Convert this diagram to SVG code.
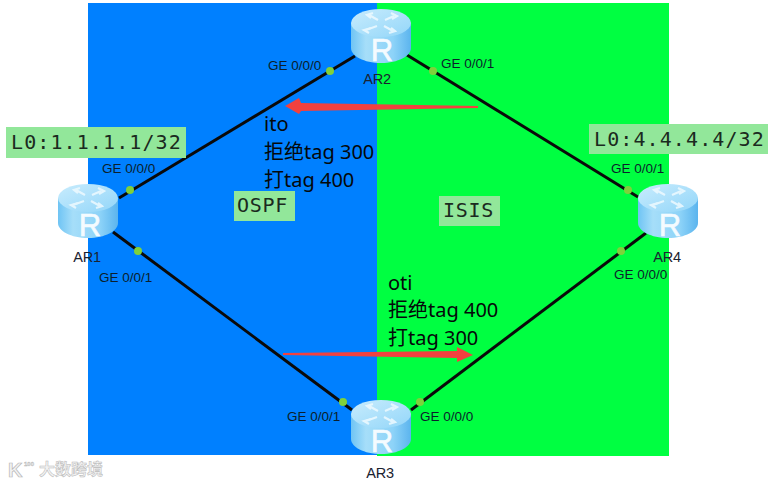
<svg xmlns="http://www.w3.org/2000/svg" width="774" height="484" viewBox="0 0 774 484">
<style>
.bg{stroke:none}
.link{stroke:#0a0a0a;stroke-width:3;fill:none}
.dot{fill:#7fd13b}
.port{font:13.5px "Liberation Sans",Arial,sans-serif;fill:#0b1f2c}
.name{font:14.5px "Liberation Sans",Arial,sans-serif;fill:#1a2230;text-anchor:middle;letter-spacing:-.2px}
.tagbox{fill:#92e79a}
.mono{font:20px "DejaVu Sans Mono",monospace;fill:#1b2a20;letter-spacing:1.1px}
.as{font:20px "DejaVu Sans Mono",monospace;fill:#1b2a20;letter-spacing:.7px}
.note{font:20px "Noto Sans","Noto Sans CJK SC",sans-serif;fill:#05080a}
.arrow{fill:#f2413f}
.rt{fill:url(#side)}
.rtop{fill:url(#top)}
.rtxt{font:31px "Liberation Sans",Arial,sans-serif;fill:#f4fbff;stroke:#f4fbff;stroke-width:.6px;text-anchor:middle}
.wm{font:bold 16px "Noto Sans CJK SC",sans-serif;fill:#f2f2f2;stroke:#b8b8b8;stroke-width:.5px}
.wml{font:bold 20px "Liberation Sans",sans-serif;fill:#f2f2f2;stroke:#b8b8b8;stroke-width:.7px}
.wms{font:bold 6px "Liberation Sans",sans-serif;fill:#f2f2f2;stroke:#b8b8b8;stroke-width:.4px}
</style>
<defs>
<linearGradient id="side" x1="0" x2="1" y1="0" y2="0">
<stop offset="0" stop-color="#6fc4f4"/><stop offset=".25" stop-color="#a6def9"/><stop offset=".7" stop-color="#8dd3f8"/><stop offset="1" stop-color="#5bb4ee"/>
</linearGradient>
<linearGradient id="top" x1="0" x2="1" y1="0" y2="1">
<stop offset="0" stop-color="#c8ecfd"/><stop offset="1" stop-color="#93d6f9"/>
</linearGradient>
<g id="router">
<path class="rt" d="M0 14V39C0 47 13 54 30 54S60 47 60 39V14Z"/>
<ellipse class="rtop" cx="30" cy="14" rx="30" ry="14"/>
<g stroke="#eefaff" stroke-width="2.2" fill="none" opacity=".85">
<path d="M27 11L18 6M33 17L42 22M34 11L43 7M26 17L15 21"/>
<path d="M22 4L16 6L20 9M38 24L44 22L40 19M40 4L46 7L41 10M20 19L13 21L18 24"/>
</g>
</g>
</defs>
<rect class="bg" x="88" y="3" width="289" height="452" fill="#0080ff"/>
<rect class="bg" x="377" y="3" width="292" height="453" fill="#00ff41"/>
<g id="connectors">
<path class="link" d="M119 198L355 56"/>
<path class="link" d="M407 55L638 197"/>
<path class="link" d="M113 232L352 410"/>
<path class="link" d="M411 410L646 233"/>
<circle class="dot" cx="130" cy="190" r="4"/>
<circle class="dot" cx="138" cy="251" r="4"/>
<circle class="dot" cx="330" cy="71" r="4"/>
<circle class="dot" cx="433" cy="71" r="4"/>
<circle class="dot" cx="343" cy="402" r="4"/>
<circle class="dot" cx="420" cy="402" r="4"/>
<circle class="dot" cx="628" cy="190" r="4"/>
<circle class="dot" cx="621" cy="251" r="4"/>
<path class="arrow" d="M285 106L299 98L301 103L478 106L478 108L301 111L299 114Z"/>
<path class="arrow" d="M283 353L457 351L457 347L473 355L457 362L457 358L283 355Z"/>
</g>
<g id="AR1"><use href="#router" x="58" y="184"/><text class="rtxt" x="90" y="236">R</text><text class="name" x="87" y="262">AR1</text></g>
<g id="AR2"><use href="#router" x="351" y="9"/><text class="rtxt" x="382" y="61">R</text><text class="name" x="377" y="84">AR2</text></g>
<g id="AR3"><use href="#router" x="351" y="400"/><text class="rtxt" x="382" y="452">R</text><text class="name" x="380" y="478">AR3</text></g>
<g id="AR4"><use href="#router" x="638" y="184"/><text class="rtxt" x="670" y="236">R</text><text class="name" x="667" y="262">AR4</text></g>
<g id="ports">
<text class="port" x="102" y="173">GE 0/0/0</text>
<text class="port" x="99" y="282">GE 0/0/1</text>
<text class="port" x="268" y="70">GE 0/0/0</text>
<text class="port" x="441" y="68">GE 0/0/1</text>
<text class="port" x="287" y="421">GE 0/0/1</text>
<text class="port" x="420" y="421">GE 0/0/0</text>
<text class="port" x="611" y="173">GE 0/0/1</text>
<text class="port" x="614" y="279">GE 0/0/0</text>
</g>
<g id="L0-AR1"><rect class="tagbox" x="6" y="127" width="180" height="31"/><text class="mono" x="11" y="149">L0:1.1.1.1/32</text></g>
<g id="L0-AR4"><rect class="tagbox" x="589" y="124" width="179" height="30"/><text class="mono" x="594" y="146">L0:4.4.4.4/32</text></g>
<g id="OSPF"><rect class="tagbox" x="234" y="191" width="61" height="30"/><text class="as" x="237" y="212">OSPF</text></g>
<g id="ISIS"><rect class="tagbox" x="439" y="196" width="61" height="30"/><text class="as" x="443" y="217">ISIS</text></g>
<g id="note-ito"><text class="note" x="264" y="131">ito</text><text class="note" x="264" y="159">拒绝tag 300</text><text class="note" x="264" y="187">打tag 400</text></g>
<g id="note-oti"><text class="note" x="388" y="290">oti</text><text class="note" x="388" y="317">拒绝tag 400</text><text class="note" x="388" y="345">打tag 300</text></g>
<g id="watermark"><text class="wml" x="8" y="477">K</text><text class="wms" x="24" y="466">100</text><text class="wm" x="39" y="475">大数跨境</text></g>
</svg>
